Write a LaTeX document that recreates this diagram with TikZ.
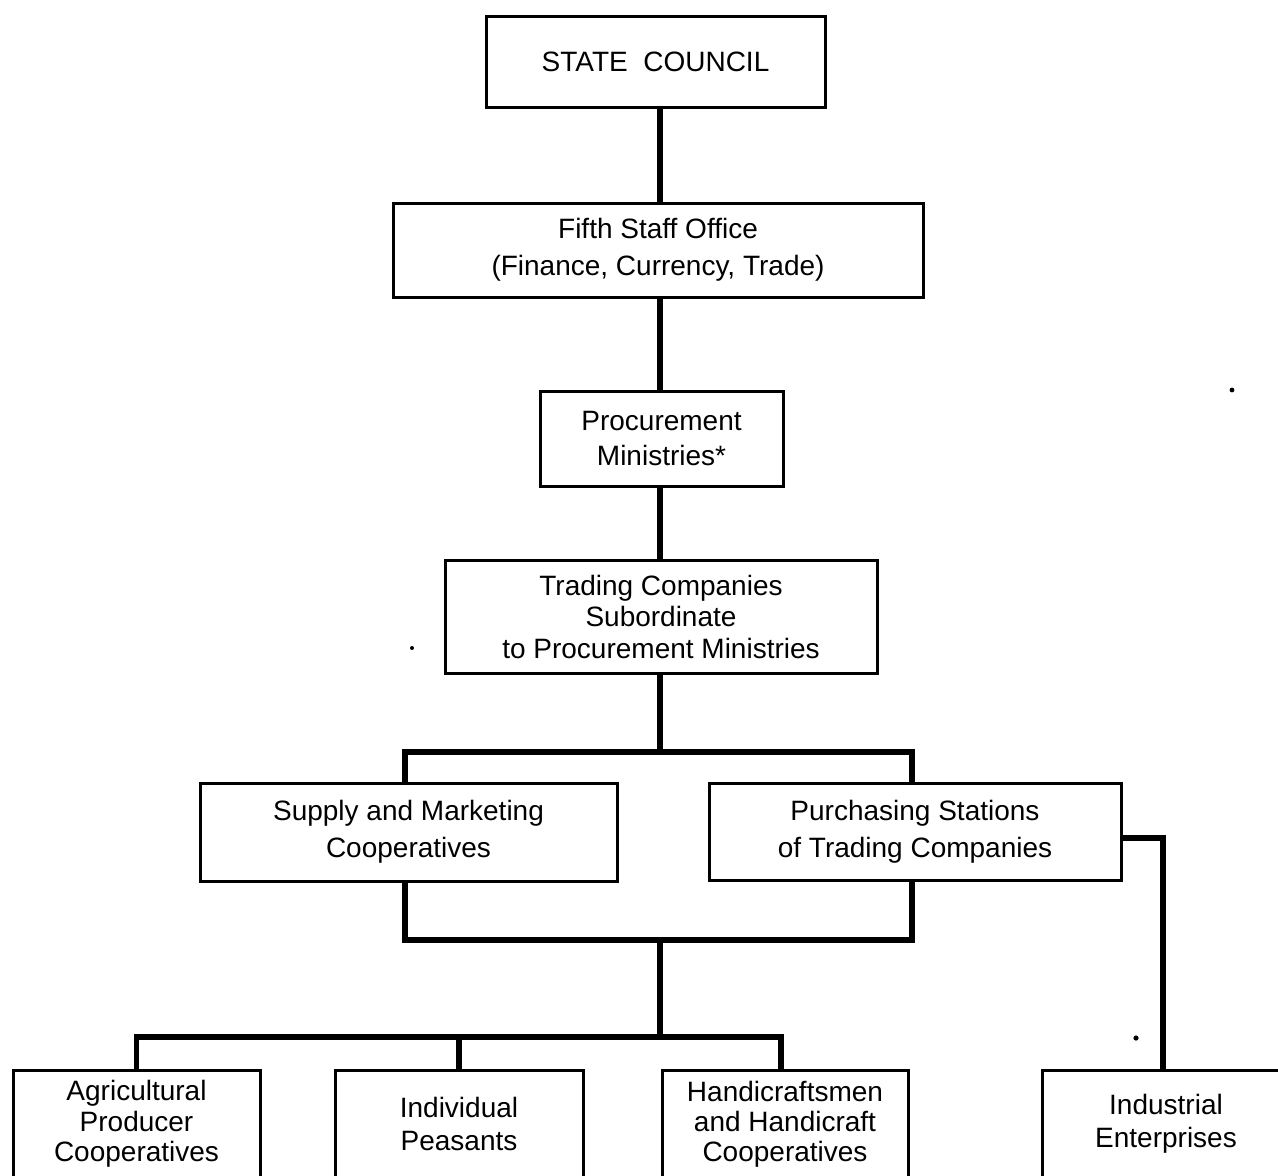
\documentclass[tikz,border=0pt]{standalone}
\usepackage{fontspec}
\setmainfont{Liberation Sans}
\begin{document}
\begin{tikzpicture}[x=0.5pt,y=-0.5pt,
  box/.style={draw, line width=1.5pt, align=center, inner sep=0pt, font=\fontsize{14}{16}\selectfont},
  conn/.style={line width=2.7pt},
  speck/.style={fill=black}]
\useasboundingbox (0,0) rectangle (1278,1175);
\clip (0,0) rectangle (1278,1175);
\fill[white] (0,0) rectangle (1278,1175);

\node[box, minimum width=169.5pt, minimum height=45.5pt] (sc) at (655.5,61.5) {STATE\ \ COUNCIL};
\node[box, minimum width=265pt, minimum height=47pt, font=\fontsize{14}{18.5}\selectfont] (fso) at (658,250) {Fifth Staff Office\\(Finance, Currency, Trade)};
\node[box, minimum width=121.5pt, minimum height=47.5pt, font=\fontsize{14}{17.5}\selectfont] (pm) at (661.5,438.5) {Procurement\\Ministries*};
\node[box, minimum width=216pt, minimum height=56.5pt, font=\fontsize{14}{15.75}\selectfont] (tc) at (661,616.5) {Trading Companies\\Subordinate\\to Procurement Ministries};
\node[box, minimum width=208.5pt, minimum height=49pt, font=\fontsize{14}{18.5}\selectfont] (smc) at (408.5,832) {Supply and Marketing\\Cooperatives};
\node[box, minimum width=206pt, minimum height=48.5pt, font=\fontsize{14}{18.5}\selectfont] (ps) at (915,831.5) {Purchasing Stations\\of Trading Companies};
\node[box, minimum width=123.5pt, minimum height=54pt, font=\fontsize{14}{15.25}\selectfont] (apc) at (136.5,1124) {Agricultural\\Producer\\Cooperatives};
\node[box, minimum width=124pt, minimum height=54pt, font=\fontsize{14}{16.5}\selectfont] (ip) at (459,1124) {Individual\\Peasants};
\node[box, minimum width=123pt, minimum height=54pt, font=\fontsize{14}{15}\selectfont] (hh) at (785,1124) {Handicraftsmen\\and Handicraft\\Cooperatives};
\node[box, minimum width=124pt, minimum height=54pt, font=\fontsize{14}{16.5}\selectfont] (ie) at (1166,1124) {Industrial\\Enterprises};

\coordinate (t) at (660,0);
\coordinate (xl) at (405,0);
\coordinate (xr) at (912,0);
\coordinate (xh) at (781,0);
\coordinate (xi) at (1163,0);
\coordinate (j1) at (660,752);
\coordinate (j2) at (660,940);
\coordinate (j3) at (660,1037);
\coordinate (pe) at ([yshift=-3.25pt]ps.east);

\draw[conn] (t |- sc.south) -- (t |- fso.north);
\draw[conn] (t |- fso.south) -- (t |- pm.north);
\draw[conn] (t |- pm.south) -- (t |- tc.north);
\draw[conn] (t |- tc.south) -- (j1);
\draw[conn] (xl |- smc.north) |- (j1) -| (xr |- ps.north);
\draw[conn] (xl |- smc.south) |- (j2) -| (xr |- ps.south);
\draw[conn] (j2) -- (j3);
\draw[conn] (apc.north) |- (j3) -| (xh |- hh.north);
\draw[conn] (ip.north) -- (ip.north |- j3);
\draw[conn] (pe) -| (xi |- ie.north);

\fill[speck] (1232,390) circle[radius=1.2pt];
\fill[speck] (412,648) circle[radius=1pt];
\fill[speck] (1136,1038) circle[radius=1.3pt];
\end{tikzpicture}
\end{document}
